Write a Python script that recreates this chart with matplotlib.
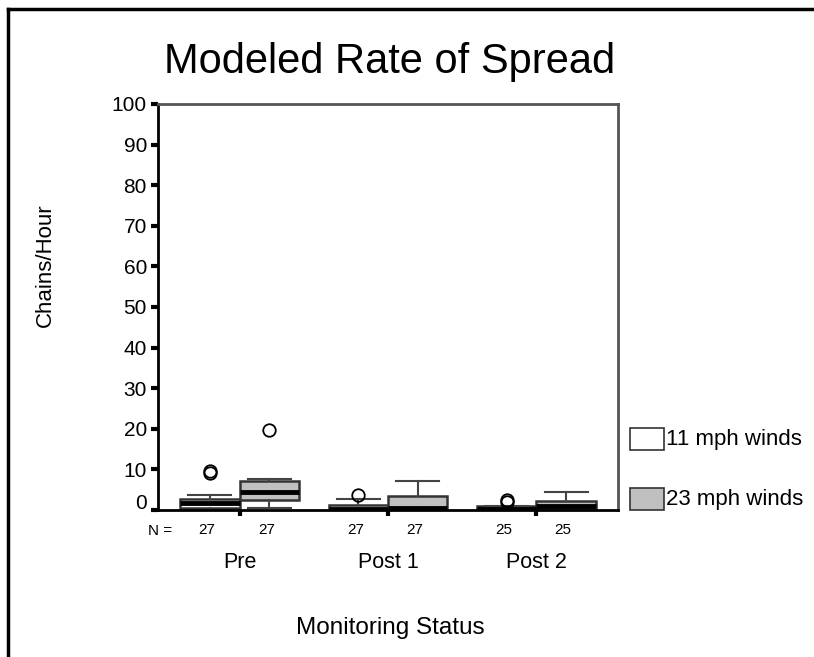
import matplotlib
matplotlib.use("Agg")
import matplotlib.pyplot as plt
import matplotlib.transforms as mtransforms
from matplotlib.patches import Rectangle
from matplotlib.lines import Line2D

plt.rcParams['font.family'] = ['Liberation Sans', 'DejaVu Sans']

groups = ["Pre", "Post 1", "Post 2"]
series = ["11 mph winds", "23 mph winds"]
colors = ["white", "#c0c0c0"]
counts = [[27, 27], [27, 27], [25, 25]]
# stats per group, per series: (whislo, q1, med, q3, whishi, fliers)
stats_11 = [
    (0.0, 0.4, 1.65, 2.8, 3.8, [9.0, 9.5]),
    (0.0, 0.0, 0.2, 1.2, 2.8, [3.6]),
    (0.0, 0.0, 0.3, 1.1, 1.1, [2.0, 2.4]),
]
stats_23 = [
    (0.4, 2.5, 4.5, 7.2, 7.6, [19.8]),
    (0.0, 0.2, 0.4, 3.5, 7.2, []),
    (0.4, 0.6, 1.0, 2.2, 4.5, []),
]
yticks = [0, 10, 20, 30, 40, 50, 60, 70, 80, 90, 100]

fig = plt.figure(figsize=(8.14, 6.57), dpi=100)
ax = fig.add_axes([158/814, 1-510/657, 460/814, 406/657])

offsets = [-0.2, 0.2]
for si, st in enumerate([stats_11, stats_23]):
    bstats = []
    for (lo, q1, med, q3, hi, fl) in st:
        bstats.append(dict(whislo=lo, q1=q1, med=med, q3=q3, whishi=hi, fliers=fl))
    pos = [i + 1 + offsets[si] for i in range(len(groups))]
    ax.bxp(bstats, positions=pos, widths=0.4, patch_artist=True, showfliers=True,
           boxprops=dict(facecolor=colors[si], edgecolor="#333333", linewidth=1.8),
           medianprops=dict(color="black", linewidth=3.5),
           whiskerprops=dict(color="#444444", linewidth=1.5),
           capprops=dict(color="#444444", linewidth=1.5),
           capwidths=0.29,
           flierprops=dict(marker="o", markerfacecolor="none", markeredgecolor="black",
                           markersize=9, markeredgewidth=1.3))

ax.set_xlim(0.45, 3.55)
ax.set_ylim(0, 100)
ax.set_yticks(yticks)
ax.set_yticklabels([str(v) for v in yticks], fontsize=15)
ax.tick_params(axis='y', direction='out', length=5, width=3, color='black', pad=3)
ax.set_xticks([1, 2, 3])
ax.set_xticklabels([])
ax.tick_params(axis='x', direction='out', length=4, width=3, color='black')
zero_lab = ax.get_yticklabels()[0]
zero_lab.set_transform(zero_lab.get_transform() +
                       mtransforms.ScaledTranslation(0, 6/72, fig.dpi_scale_trans))

ax.spines['left'].set_color('black')
ax.spines['bottom'].set_color('black')
ax.spines['left'].set_linewidth(2)
ax.spines['bottom'].set_linewidth(2)
ax.spines['top'].set_color('#555555')
ax.spines['right'].set_color('#555555')
ax.spines['top'].set_linewidth(2)
ax.spines['right'].set_linewidth(2)

# N counts
trans = ax.get_xaxis_transform()
fig.text(148/814, 1-531/657, "N =", ha='left', va='center', fontsize=11)
for gi, g in enumerate(groups):
    for si in range(2):
        ax.text(gi + 1 + offsets[si] - 0.02, -0.05, str(counts[gi][si]), transform=trans,
                ha='center', va='center', fontsize=11)
    ax.text(gi + 1, -0.13, g, transform=trans, ha='center', va='center', fontsize=15.5)

fig.text(390/814, 1-62/657, "Modeled Rate of Spread", ha='center', va='center', fontsize=30)
fig.text(45/814, 1-265/657, "Chains/Hour", ha='center', va='center', rotation=90, fontsize=16)
fig.text(390/814, 1-628/657, "Monitoring Status", ha='center', va='center', fontsize=17.5)

# legend
for si, s in enumerate(series):
    yc = [439, 499][si]
    fig.patches.append(Rectangle((630/814, 1-(yc+11)/657), 34/814, 22/657, transform=fig.transFigure,
                                 facecolor=colors[si], edgecolor="#333333", linewidth=1.2))
    fig.text(666/814, 1-yc/657, s, ha='left', va='center', fontsize=16)

# outer border (top and left)
fig.lines.append(Line2D([8/814, 1.0], [1-9/657, 1-9/657], transform=fig.transFigure, color='black', linewidth=2.5))
fig.lines.append(Line2D([8/814, 8/814], [1-9/657, 0.0], transform=fig.transFigure, color='black', linewidth=2.5))

fig.savefig("out.png", dpi=100)
